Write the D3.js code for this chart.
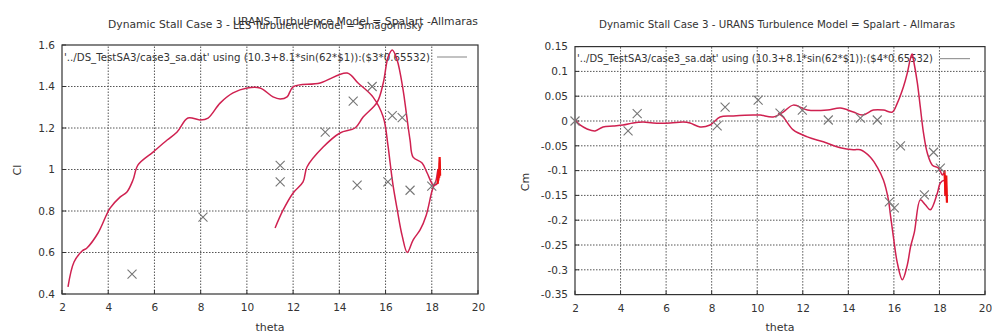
<!DOCTYPE html>
<html><head><meta charset="utf-8">
<script src="https://cdn.jsdelivr.net/npm/d3@7"></script>
<style>body{margin:0;background:#fff}svg{display:block}text{font-family:"DejaVu Sans",sans-serif;fill:#333}</style>
</head><body>
<script>
const xTicks = [2,4,6,8,10,12,14,16,18,20];
const clTicks = [0.4,0.6,0.8,1,1.2,1.4,1.6];
const cmTicks = [-0.35,-0.3,-0.25,-0.2,-0.15,-0.1,-0.05,0,0.05,0.1,0.15];

const clTheta = [2.26,2.52,2.87,3.08,3.56,4.08,4.51,4.81,5.07,5.29,5.94,6.55,6.98,7.45,7.97,8.32,8.84,9.40,10.01,10.57,11.13,11.44,11.74,12.0,13.17,14.34,14.81,15.46,15.9,16.1,16.2,16.33,16.5,16.72,16.94,17.19,17.5,17.76,18.02,18.19,18.27,18.3,18.34,18.36,18.33,18.3,18.22,18.15,18.06,17.8,17.58,17.19,17.06,16.9,16.76,16.5,16.29,16.11,15.9,15.64,15.03,14.68,14.03,13.3,12.6,12.43,12.0,11.57,11.22];
const clValue = [0.434,0.554,0.607,0.622,0.694,0.814,0.867,0.892,0.949,1.022,1.084,1.142,1.181,1.248,1.239,1.248,1.32,1.369,1.393,1.393,1.35,1.34,1.35,1.398,1.417,1.465,1.417,1.349,1.253,1.12,1.03,0.92,0.81,0.68,0.60,0.66,0.71,0.78,0.90,0.95,1.0,0.96,1.05,0.98,1.02,0.95,0.93,0.925,0.925,0.983,1.031,1.06,1.142,1.27,1.383,1.528,1.576,1.542,1.417,1.325,1.253,1.2,1.176,1.108,1.012,0.94,0.887,0.805,0.718];
const clSpikeTheta = [18.25,18.3,18.32,18.34,18.36,18.33];
const clSpikeValue = [0.93,1.0,0.96,1.06,0.97,1.03];
const clExpTheta = [5.03,8.1,11.44,11.44,13.39,14.6,14.77,15.42,16.1,16.29,16.72,17.06,18.0];
const clExpValue = [0.496,0.77,1.02,0.94,1.18,1.33,0.925,1.40,0.94,1.26,1.25,0.90,0.92];

const cmTheta = [2.0,2.22,2.53,2.88,3.23,3.67,4.11,4.55,4.99,5.43,6.18,6.75,7.05,7.49,7.93,8.37,8.95,9.82,10.13,10.7,11.14,11.58,12.2,13.08,13.65,14.22,14.62,15.1,15.54,15.93,16.15,16.42,16.59,16.72,16.8,16.86,17.03,17.16,17.3,17.47,17.69,17.96,18.13,18.2,18.25,18.28,18.32,18.28,18.2,18.04,17.91,17.6,17.38,17.16,16.9,16.73,16.59,16.37,16.15,15.98,15.85,15.76,15.54,15.27,14.97,14.53,14.22,13.65,12.9,12.2,11.58,11.14,10.92];
const cmValue = [0.002,-0.008,-0.016,-0.02,-0.012,-0.01,-0.008,-0.004,-0.002,-0.004,-0.004,-0.002,-0.004,-0.012,-0.008,0.008,0.01,0.012,0.012,0.008,0.018,0.032,0.022,0.022,0.026,0.018,0.012,0.022,0.022,0.018,0.036,0.069,0.097,0.125,0.135,0.123,0.077,0.028,-0.024,-0.065,-0.089,-0.095,-0.109,-0.105,-0.15,-0.11,-0.16,-0.13,-0.12,-0.125,-0.145,-0.179,-0.169,-0.159,-0.224,-0.254,-0.29,-0.32,-0.286,-0.234,-0.19,-0.159,-0.119,-0.093,-0.073,-0.058,-0.058,-0.054,-0.042,-0.032,-0.018,0.008,0.016];
const cmSpikeTheta = [18.22,18.27,18.3,18.33,18.3];
const cmSpikeValue = [-0.10,-0.15,-0.11,-0.165,-0.12];
const cmExpTheta = [2.0,4.33,4.73,8.24,8.59,10.04,11.0,11.98,13.12,14.53,15.27,15.8,16.02,16.29,17.34,17.74,18.04];
const cmExpValue = [0.0,-0.02,0.015,-0.01,0.028,0.042,0.016,0.022,0.002,0.006,0.002,-0.163,-0.175,-0.05,-0.149,-0.063,-0.095];

const legendText = ["'../DS_TestSA3/case3_sa.dat' using (10.3+8.1*sin(62*$1)):($3*0.65532)",
                    "'../DS_TestSA3/case3_sa.dat' using (10.3+8.1*sin(62*$1)):($4*0.65532)"];

const svg = d3.select("body").append("svg").attr("width",992).attr("height",336);

function panel(o){
  const g = svg.append("g");
  const x = d3.scaleLinear().domain([2,20]).range([o.x0,o.x1]);
  const y = d3.scaleLinear().domain(o.ydom).range([o.y0,o.y1]);
  g.append("g").selectAll("line").data(xTicks.slice(1,-1)).join("line")
    .attr("x1",d=>x(d)).attr("x2",d=>x(d)).attr("y1",o.y0).attr("y2",o.y1)
    .attr("stroke","#555").attr("stroke-width",1).attr("stroke-dasharray","1.5,1.5");
  g.append("g").selectAll("line").data(o.yticks.slice(1,-1)).join("line")
    .attr("y1",d=>y(d)).attr("y2",d=>y(d)).attr("x1",o.x0).attr("x2",o.x1)
    .attr("stroke","#555").attr("stroke-width",1).attr("stroke-dasharray","1.5,1.5");
  const ax = d3.axisBottom(x).tickValues(xTicks).tickSize(0).tickPadding(10).tickFormat(d3.format("d"));
  const axg = g.append("g").attr("transform",`translate(0,${o.y0})`).call(ax);
  axg.select(".domain").remove();
  axg.selectAll("text").attr("font-size",10.5).attr("fill","#333");
  const ay = d3.axisLeft(y).tickValues(o.yticks).tickSize(0).tickPadding(7).tickFormat(d=>String(+d.toFixed(2)));
  const ayg = g.append("g").attr("transform",`translate(${o.x0},0)`).call(ay);
  ayg.select(".domain").remove();
  ayg.selectAll("text").attr("font-size",10.5).attr("fill","#333");
  g.append("g").selectAll("line").data(xTicks).join("line")
    .attr("x1",d=>x(d)).attr("x2",d=>x(d)).attr("y1",o.y0).attr("y2",o.y0-4).attr("stroke","#333");
  g.append("g").selectAll("line").data(o.yticks).join("line")
    .attr("y1",d=>y(d)).attr("y2",d=>y(d)).attr("x1",o.x0).attr("x2",o.x0+4).attr("stroke","#333");
  g.append("rect").attr("x",o.x0).attr("y",o.y1).attr("width",o.x1-o.x0).attr("height",o.y0-o.y1)
    .attr("fill","none").attr("stroke","#333").attr("stroke-width",1.2);
  g.append("text").attr("x",o.x0+2).attr("y",o.y1+15.5).attr("font-size",10.5)
    .attr("textLength",o.legEnd-o.x0-2).attr("lengthAdjust","spacingAndGlyphs").text(o.legend);
  g.append("line").attr("x1",o.legEnd+7).attr("x2",o.legEnd+37).attr("y1",o.y1+12).attr("y2",o.y1+12)
    .attr("stroke","#999").attr("stroke-width",1.2);
  const line = d3.line().x(d=>x(d[0])).y(d=>y(d[1])).curve(d3.curveCatmullRom.alpha(0.5));
  g.append("path").datum(d3.zip(o.lx,o.ly)).attr("d",line)
    .attr("fill","none").attr("stroke","#cf2150").attr("stroke-width",1.5).attr("stroke-linejoin","round");
  g.append("path").datum(d3.zip(o.sx,o.sy)).attr("d",d3.line().x(d=>x(d[0])).y(d=>y(d[1])))
    .attr("fill","none").attr("stroke","#ee1111").attr("stroke-width",2.2);
  const s = 4.5;
  g.append("g").selectAll("path").data(d3.zip(o.ex,o.ey)).join("path")
    .attr("d",d=>{const cx=x(d[0]),cy=y(d[1]);return `M${cx-s},${cy-s}L${cx+s},${cy+s}M${cx-s},${cy+s}L${cx+s},${cy-s}`;})
    .attr("stroke","#777").attr("stroke-width",1.1).attr("fill","none");
  g.append("text").attr("x",(o.x0+o.x1)/2).attr("y",331).attr("text-anchor","middle").attr("font-size",11).text("theta");
  g.append("text").attr("transform",`translate(${o.ylx},${o.yly}) rotate(-90)`).attr("text-anchor","middle").attr("font-size",11).text(o.ylabel);
}

panel({x0:62,x1:478,y0:294,y1:45,ydom:[0.4,1.6],yticks:clTicks,legend:legendText[0],legEnd:430,
  lx:clTheta,ly:clValue,sx:clSpikeTheta,sy:clSpikeValue,ex:clExpTheta,ey:clExpValue,ylabel:"Cl",ylx:21,yly:170});
panel({x0:575,x1:985,y0:294.6,y1:46.6,ydom:[-0.35,0.15],yticks:cmTicks,legend:legendText[1],legEnd:933,
  lx:cmTheta,ly:cmValue,sx:cmSpikeTheta,sy:cmSpikeValue,ex:cmExpTheta,ey:cmExpValue,ylabel:"Cm",ylx:529,yly:182});

svg.append("text").attr("x",108).attr("y",28).attr("font-size",11).attr("textLength",122).attr("lengthAdjust","spacingAndGlyphs").text("Dynamic Stall Case 3 -");
svg.append("text").attr("x",233).attr("y",29).attr("font-size",11).attr("textLength",190).attr("lengthAdjust","spacingAndGlyphs").text("LES Turbulence Model = Smagorinsky");
svg.append("text").attr("x",233).attr("y",25).attr("font-size",11).attr("textLength",245).attr("lengthAdjust","spacingAndGlyphs").text("URANS Turbulence Model = Spalart -Allmaras");
svg.append("text").attr("x",599).attr("y",28).attr("font-size",11).attr("textLength",356).attr("lengthAdjust","spacingAndGlyphs").text("Dynamic Stall Case 3 - URANS Turbulence Model = Spalart - Allmaras");
</script>
</body></html>
